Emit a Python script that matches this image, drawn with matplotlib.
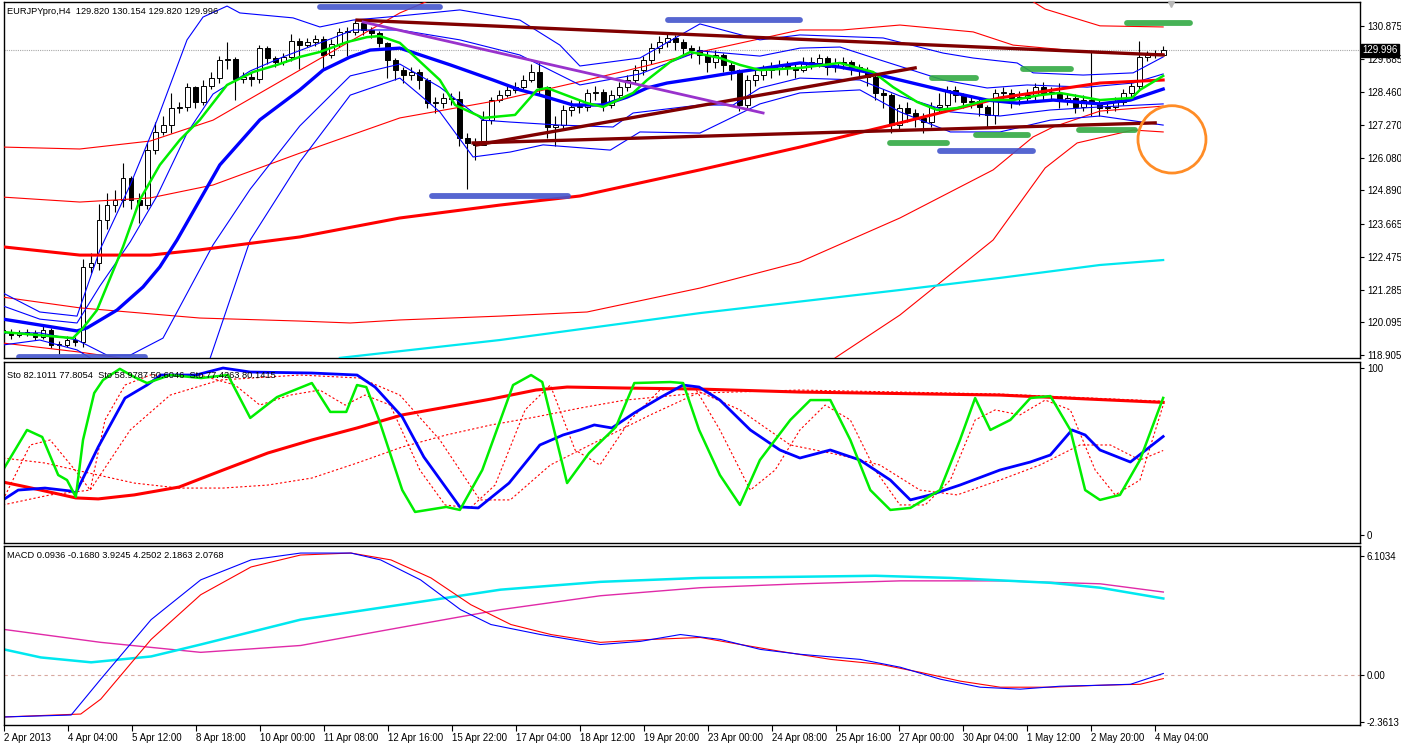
import numpy as np
import matplotlib.pyplot as plt
from matplotlib.patches import Ellipse

plt.rcParams['font.family'] = ['Liberation Sans', 'DejaVu Sans']

# ---------------- price data (H4 bars, index 0..145) ----------------
first_open = 119.80
closes = [119.71, 119.63, 119.71, 119.71, 119.56, 119.82, 119.27, 119.27, 119.45, 119.38,
          122.11, 122.25, 123.82, 124.36, 124.55, 125.35, 124.55, 124.36, 126.36, 127.02,
          127.27, 127.89, 127.93, 128.65, 128.11, 128.69, 128.98, 129.64, 129.67, 128.95,
          129.02, 128.95, 130.07, 129.71, 129.57, 129.75, 130.33, 130.18, 130.29, 130.40,
          129.82, 130.22, 130.66, 130.66, 130.98, 130.73, 130.62, 130.26, 129.64, 129.27,
          129.09, 129.20, 128.91, 128.07, 128.07, 128.26, 128.22, 126.80, 126.62, 126.55,
          127.45, 128.18, 128.36, 128.55, 128.65, 128.91, 129.20, 128.65, 127.20, 127.27,
          127.82, 127.93, 127.93, 128.44, 128.47, 128.00, 128.36, 128.65, 128.91, 129.27,
          129.64, 130.07, 130.29, 130.44, 130.29, 130.07, 130.00, 129.82, 129.57, 129.82,
          129.46, 129.27, 128.00, 128.91, 129.09, 129.27, 129.35, 129.46, 129.35, 129.27,
          129.57, 129.53, 129.71, 129.38, 129.53, 129.57, 129.38, 129.27, 129.02, 128.44,
          128.36, 127.27, 127.89, 127.71, 127.53, 127.38, 127.93, 128.00, 128.55, 128.36,
          128.11, 128.15, 127.93, 127.64, 128.44, 128.44, 128.26, 128.26, 128.36, 128.65,
          128.44, 128.44, 128.18, 128.26, 127.93, 128.18, 128.07, 127.89, 127.93, 128.11,
          128.44, 128.69, 129.75, 129.82, 129.82, 129.996]
highs = [119.95, 119.85, 119.80, 119.85, 119.80, 119.95, 119.90, 119.40, 119.60, 119.55,
         122.40, 122.60, 124.40, 124.80, 124.90, 125.90, 125.40, 124.80, 126.60, 127.40,
         127.60, 128.45, 128.10, 128.80, 128.70, 128.90, 129.20, 129.80, 130.30, 129.75,
         129.20, 129.20, 130.20, 130.15, 129.80, 129.90, 130.60, 130.45, 130.45, 130.55,
         130.50, 130.40, 130.80, 130.85, 131.10, 131.05, 130.85, 130.70, 130.30, 129.70,
         129.40, 129.40, 129.30, 129.00, 128.30, 128.45, 128.45, 128.50, 127.00, 126.80,
         127.80, 128.30, 128.55, 128.70, 128.85, 129.10, 129.50, 129.60, 128.70, 127.60,
         128.00, 128.20, 128.20, 128.60, 128.70, 128.60, 128.55, 128.85, 129.10, 129.45,
         129.80, 130.25, 130.50, 130.60, 130.55, 130.40, 130.20, 130.15, 130.00, 130.00,
         129.90, 129.60, 129.30, 129.10, 129.30, 129.45, 129.55, 129.65, 129.60, 129.50,
         129.75, 129.75, 129.85, 129.80, 129.70, 129.75, 129.65, 129.50, 129.40, 129.10,
         128.60, 128.45, 128.05, 128.10, 127.85, 127.70, 128.10, 128.45, 128.70, 128.70,
         128.45, 128.35, 128.25, 128.00, 128.60, 128.65, 128.60, 128.50, 128.60, 128.80,
         128.85, 128.65, 128.80, 128.45, 128.40, 128.35, 129.93, 128.20, 128.10, 128.30,
         128.60, 128.85, 130.32, 129.98, 130.00, 130.154]
lows = [119.60, 119.50, 119.55, 119.60, 119.45, 119.50, 119.15, 118.95, 119.20, 119.25,
        119.20, 121.90, 122.00, 123.50, 124.10, 124.30, 124.20, 123.70, 124.20, 126.20,
        126.90, 127.00, 127.70, 127.80, 127.90, 128.00, 128.60, 128.80, 129.30, 128.20,
        128.80, 128.70, 128.80, 129.50, 129.40, 129.45, 129.60, 129.30, 130.10, 130.15,
        129.30, 129.70, 130.10, 129.80, 130.55, 130.55, 130.45, 130.10, 129.00, 128.90,
        128.80, 128.90, 128.60, 127.90, 127.70, 127.90, 128.00, 126.50, 124.95, 126.00,
        126.60, 127.30, 128.10, 128.30, 128.45, 128.60, 128.85, 128.40, 126.80, 126.50,
        127.10, 127.60, 127.70, 127.80, 128.20, 127.80, 127.90, 128.20, 128.50, 128.80,
        129.10, 129.50, 129.90, 130.10, 130.00, 129.80, 129.70, 129.50, 129.20, 129.35,
        129.20, 128.90, 127.80, 127.90, 128.70, 128.90, 129.00, 129.10, 129.10, 129.00,
        129.20, 129.30, 129.40, 129.10, 129.20, 129.30, 129.10, 129.00, 128.70, 128.20,
        127.90, 127.00, 127.10, 127.40, 127.20, 127.00, 127.20, 127.70, 127.80, 128.10,
        127.90, 127.90, 127.60, 127.20, 127.30, 128.10, 127.90, 128.00, 128.10, 128.20,
        128.20, 128.20, 127.90, 128.00, 127.70, 127.80, 127.60, 127.60, 127.70, 127.80,
        128.00, 128.30, 128.60, 129.60, 129.70, 129.820]

# ---------------- main-window indicators, read as (bar, price) ----------------
fast_ma_x = [0, 8.75, 10, 11.75, 15, 17.1, 19.6, 22.1, 24.6, 28, 31.25, 34.25, 37.1, 39.6, 43, 45.5, 47.1,
             49.6, 54.6, 56.5, 60, 64, 66.75, 68, 73, 75, 78.75, 80.5, 83.4, 85.9, 89.6, 92.1, 94.6, 99.6,
             104.6, 108.75, 111.25, 114.25, 116.75, 119.25, 123, 126.25, 129.6, 132.1, 135, 137.1, 141.1, 142.1, 145]
fast_ma = [119.74, 119.52, 119.89, 120.54, 122.84, 124.55, 125.82, 126.73, 127.46, 128.73, 129.20, 129.46, 129.75,
           129.93, 130.29, 130.47, 130.51, 130.26, 128.91, 128.00, 127.53, 127.64, 128.55, 128.62, 128.07, 127.93,
           128.44, 128.91, 129.57, 129.93, 129.71, 129.46, 129.27, 129.35, 129.53, 129.20, 128.65, 128.11, 127.82,
           127.89, 128.18, 128.18, 128.36, 128.44, 128.29, 128.18, 128.26, 128.55, 129.06]

mid_ma_x = [0, 9.25, 10.5, 14.25, 17.5, 19.6, 21.75, 27.1, 32.1, 37.1, 40, 43.4, 45.9, 49.6, 55.9, 61.25, 64.6,
            67.1, 71.25, 75, 78, 80.5, 83, 87.1, 91.75, 99.6, 104.6, 108, 112.1, 118.4, 123, 126.75, 131.25,
            137.1, 140.9, 145]
mid_ma = [120.21, 119.78, 119.89, 120.54, 121.38, 122.11, 123.09, 125.82, 127.46, 128.55, 129.27, 129.75, 130.00,
          130.07, 129.46, 128.91, 128.55, 128.36, 128.00, 128.00, 128.29, 128.62, 128.80, 128.98, 129.20, 129.53,
          129.38, 129.20, 128.91, 128.47, 128.18, 128.07, 128.18, 128.04, 128.18, 128.58]

# bands around the blue average (outer and inner)
blue_up2_x = [0, 4.6, 9.25, 12.1, 15.9, 19.25, 23, 25, 28, 29.6, 36.25, 39.6, 43.75, 49.6, 57.1, 64.6, 69.6,
              72.1, 79.6, 87.1, 94.6, 99.6, 110, 117.5, 121.25, 126.75, 128.75, 135, 141.25, 145]
blue_up2 = [121.16, 120.47, 120.32, 122.72, 125.09, 127.45, 130.37, 131.20, 131.60, 131.35, 131.17, 130.84,
            131.09, 131.24, 131.46, 131.09, 130.18, 129.42, 129.71, 130.95, 130.37, 130.55, 130.44, 129.89,
            129.71, 129.53, 129.17, 129.09, 129.17, 129.75]
blue_up1_x = [0, 4.6, 9.25, 12.1, 15.9, 19.25, 23, 26.25, 30.9, 35, 41.25, 43.75, 49.6, 57.1, 64.6, 72.1, 79.6,
              87.1, 94.6, 99.6, 104.6, 109.6, 117.5, 123, 128, 135.5, 141.25, 145]
blue_up1 = [120.69, 120.21, 120.07, 121.41, 123.02, 124.69, 126.98, 128.40, 129.24, 129.75, 130.44, 130.73,
            130.73, 130.37, 129.82, 128.73, 129.13, 129.97, 129.78, 130.07, 130.11, 129.64, 128.91, 128.62,
            128.73, 128.65, 128.80, 129.13]
blue_dn1_x = [0, 4.6, 9.25, 13, 15.9, 20, 26.25, 30.9, 37.1, 43.4, 49.6, 54.6, 60, 63.4, 69.6, 76.25, 78.75,
              87.1, 91.25, 94.6, 99.6, 107.1, 112.1, 118.4, 124.6, 130.9, 137.1, 145]
blue_dn1 = [119.71, 119.71, 119.45, 118.90, 118.90, 119.52, 122.91, 124.94, 127.24, 129.06, 129.49, 128.65,
            127.45, 127.38, 127.27, 127.20, 127.71, 128.00, 128.00, 128.62, 128.98, 128.91, 128.33, 127.75,
            127.60, 127.82, 127.93, 128.04]
blue_dn2_x = [0, 4.6, 9.25, 10.9, np.nan, 25.9, 30.9, 37.1, 43.4, 49.6, 54.6, 58.75, 63.4, 67.5, 75.9, 79.6,
              87.1, 94.6, 99.6, 107.1, 112.1, 118.4, 124.6, 130.9, 137.1, 145]
blue_dn2 = [119.27, 119.45, 119.09, 118.80, np.nan, 118.80, 123.09, 125.93, 128.36, 128.98, 127.75, 126.11,
            126.29, 126.55, 126.36, 127.02, 126.98, 128.04, 128.44, 128.55, 127.75, 127.02, 127.02, 127.45,
            127.60, 127.27]

slow_ma_x = [0, 9.6, 18.4, 24.6, 37.1, 49.6, 62.1, 72.1, 87.1, 99.6, 112.1, 124.6, 137.1, 145]
slow_ma = [122.84, 122.54, 122.54, 122.73, 123.20, 123.89, 124.36, 124.69, 125.64, 126.47, 127.35, 128.26,
           128.80, 128.91]
# bands around the red average (outer and inner)
red_up2_x = [0, 9.6, 18.4, 26.25, 37.1, 49.6, 53.4, np.nan, 128.4, 130.25, 137.1, 145]
red_up2 = [126.47, 126.40, 126.69, 127.45, 129.27, 131.35, 131.82, np.nan, 131.82, 131.49, 130.88, 130.84]
red_up1_x = [0, 9.6, 18.4, 26.25, 37.1, 49.6, 62.1, 73, 80.9, 87.1, 99.6, 104.9, 112.1, 121.25, 126.25, 137.1, 145]
red_up1 = [124.65, 124.47, 124.62, 125.09, 126.25, 127.53, 128.18, 128.91, 129.46, 129.93, 130.73, 130.73,
           130.91, 130.66, 130.18, 129.89, 129.86]
red_dn1_x = [0, 9.6, 24.6, 37.1, 43.4, 49.6, 62.1, 73, 87.1, 99.6, 112.1, 123.75, 128.75, 131.25, 137.1, 145]
red_dn1 = [121.01, 120.62, 120.25, 120.14, 120.07, 120.18, 120.32, 120.47, 121.34, 122.29, 123.89, 125.64,
           126.84, 127.20, 127.78, 127.96]
red_dn2_x = [0, 9.6, 14.6, np.nan, 104, 112.1, 123.75, 130.25, 134.25, 141.25, 145]
red_dn2 = [119.34, 119.01, 118.80, np.nan, 118.80, 120.36, 123.09, 125.71, 126.62, 127.09, 127.02]

year_ma_x = [42.1, 62.1, 87.1, 112.1, 124.6, 137.1, 145]
year_ma = [118.80, 119.45, 120.43, 121.27, 121.71, 122.18, 122.36]

# trend lines: (bar0, price0, bar1, price1)
maroon_lines = [(44.25, 131.09, 145, 129.82),
                (58.75, 126.62, 144, 127.35),
                (59.25, 126.55, 114, 129.35)]
purple_line = (45, 131.02, 95, 127.71)

# marker zones: (bar0, bar1, price)
blue_zones = [(39.6, 54.6, 131.57), (83.1, 99.6, 131.09), (53.6, 70.6, 124.69),
              (2, 17.75, 118.83), (117.1, 128.75, 126.33)]
green_zones = [(140.5, 148.4, 130.98), (116.1, 121.6, 128.98), (127.5, 133.5, 129.31),
               (110.9, 118, 126.62), (121.6, 128.1, 126.91), (134.5, 141.5, 127.09)]
circle_center = (146.1, 126.75)

price_ticks = [130.875, 129.685, 128.460, 127.270, 126.080, 124.890, 123.665, 122.475, 121.285, 120.095, 118.905]
bid = 129.996

# ---------------- stochastic window ----------------
sto_fast_x = [0, 3, 4.9, 6.9, 8, 9.1, 10, 11.4, 12.5, 14.6, 16.4, 18, 20.9, 24.75, 28.1, 30.9, 34.25, 38.6,
              40.9, 42.9, 44.25, 45.4, 47, 49.9, 51.5, 55.4, 57.1, 59.9, 63.75, 66, 67.4, 70.5, 73.25, 76.6,
              78.9, 83.4, 85, 87, 89.6, 92.1, 94.6, 98.4, 100.9, 103.4, 105.9, 108.4, 110.9, 113.4, 117.1,
              119.6, 121.5, 123.4, 125.9, 128.4, 130.9, 133.4, 135.25, 137.1, 139.6, 142.1, 145]
sto_fast = [38.9, 62.9, 58.7, 35.9, 32.9, 22.8, 56.9, 85.0, 92.8, 99.5, 94.6, 91.0, 95.8, 94.0, 95.8, 70.1, 82.6,
            91.0, 73.7, 73.7, 89.8, 88.6, 68.9, 26.9, 13.8, 16.8, 15.0, 38.9, 89.8, 95.8, 91.6, 31.1, 49.1, 64.7,
            91.0, 91.6, 91.0, 62.9, 35.9, 18.0, 44.9, 68.9, 80.8, 80.8, 56.9, 26.9, 15.0, 16.2, 26.9, 56.9, 82.0,
            62.9, 68.9, 82.0, 83.2, 62.9, 26.9, 21.0, 24.0, 44.9, 82.1]
sto_fast_sig_x = [0, 3.4, 5.9, 9, 10.9, 12.75, 15.25, 18.4, 24.6, 29, 32.1, 35.9, 39.6, 42.75, 45.25, 48.4,
                  52.1, 55.25, 58.4, 61.5, 65.25, 68.4, 71.5, 74.6, 78.4, 82.1, 86.5, 89.6, 93.4, 96.5, 99.6,
                  102.75, 105.9, 109, 112.1, 115.25, 118.4, 121.5, 124, 127.1, 130.25, 133.4, 136.5, 139, 142.1, 145]
sto_fast_sig = [21, 53.9, 56.9, 38.9, 26.9, 68.9, 89.8, 95.8, 95.8, 89.8, 77.8, 83.8, 86.8, 77.8, 83.8, 77.8,
                38.9, 18.0, 16.2, 29.9, 74.9, 89.8, 50.9, 41.9, 68.9, 86.8, 88.0, 62.9, 26.9, 38.9, 62.9, 77.8,
                68.9, 38.9, 18.0, 18.0, 32.9, 68.9, 74.9, 71.9, 80.8, 74.9, 38.9, 24.0, 32.9, 77.8]
sto_mid_x = [0, 1.9, 5.25, 8.5, 9.1, 11.9, 15.25, 18, 19.75, 24.1, 27.5, 30.9, 38.6, 44.25, 46.5, 49.9, 52.6,
             57.1, 59.4, 63.25, 67.1, 70, 72.1, 73.9, 76.1, 78.9, 82.25, 85, 87, 89.6, 93.4, 97.1, 99.6, 103.4,
             107.1, 110.9, 113.4, 115.9, 119.6, 124.6, 128.4, 130.9, 133.6, 135.25, 137.1, 140.9, 145]
sto_mid = [21.0, 26.9, 28.1, 26.3, 25.1, 52.7, 82.0, 89.8, 95.8, 95.8, 100.0, 97.6, 97.0, 95.8, 88.6, 70.7, 46.7,
           16.8, 16.2, 31.1, 53.9, 59.9, 62.9, 65.9, 64.1, 73.1, 82.6, 89.8, 88.6, 80.8, 62.9, 50.9, 46.1, 50.9,
           44.9, 32.9, 21.0, 24.0, 29.9, 38.9, 43.7, 47.9, 62.9, 59.9, 50.9, 43.7, 58.98]
sto_mid_sig_x = [0, 5.9, 10.9, 15.9, 20.9, 27.1, 37.1, 44.6, 49.6, 54.6, 59.6, 63.4, 68.4, 74.6, 80.9, 87.1,
                 92.1, 98.4, 104.6, 109.6, 114.6, 119.25, 124.6, 129.6, 134.6, 138.4, 142.1, 145]
sto_mid_sig = [18, 24, 26.9, 62.9, 83.8, 92.8, 95.8, 94.0, 83.8, 56.9, 21.0, 21.0, 41.9, 56.9, 71.9, 85.6, 74.9,
               53.9, 47.9, 41.9, 26.9, 24.0, 32.9, 41.9, 53.9, 53.9, 44.9, 50.6]
sto_slow_x = [0, 3, 6.4, 9.1, 11.9, 16.4, 22, 27.5, 33.1, 38.6, 44.25, 49.9, 55.4, 61, 66.6, 70.5, 77.75, 87,
              99.6, 124.6, 145]
sto_slow = [31.7, 28.7, 25.1, 22.2, 21.6, 24.0, 28.7, 38.9, 49.1, 56.9, 64.1, 71.9, 76.6, 81.4, 86.8, 88.6, 88.0,
            87.4, 85.6, 83.8, 79.4]
sto_slow_sig_x = [0, 5.25, 10.75, 16.4, 22, 27.5, 33.1, 38.6, 44.25, 49.9, 55.4, 61, 66.6, 72.1, 77.75, 87,
                  99.6, 124.6, 145]
sto_slow_sig = [46.1, 43.1, 37.1, 31.1, 28.1, 28.1, 29.9, 34.1, 43.1, 52.7, 59.9, 65.9, 70.7, 76.0, 80.8, 85.0,
                86.8, 84.4, 80.1]

# ---------------- MACD window ----------------
macd_x = [0, 8.4, 12.1, 18.4, 24.6, 30.9, 37.1, 43.4, 47.1, 52.1, 57.1, 60.9, 67.1, 74.6, 79.6, 84.6, 89.6,
          94.6, 99.6, 107.1, 112.1, 117.1, 122.1, 127.1, 132.1, 137.1, 140.9, 145]
macd = [-2.13, -2.03, -0.20, 2.84, 4.87, 5.89, 6.24, 6.24, 5.89, 4.87, 3.35, 2.59, 2.08, 1.57, 1.73, 2.08, 1.83,
        1.32, 1.07, 0.81, 0.41, -0.20, -0.61, -0.71, -0.56, -0.51, -0.46, 0.09]
macd_sig_x = [0, 9.6, 12.1, 18.4, 24.6, 30.9, 37.1, 43.4, 48.4, 53.4, 58.4, 63.4, 68.4, 74.6, 80.9, 87.1, 92.1,
              97.1, 103.4, 109.6, 114.6, 119.6, 124.6, 130.9, 137.1, 142.1, 145]
macd_sig = [-2.13, -1.98, -1.22, 1.83, 4.11, 5.53, 6.14, 6.24, 5.89, 4.97, 3.60, 2.59, 2.08, 1.68, 1.83, 1.93,
            1.57, 1.22, 0.81, 0.56, 0.15, -0.30, -0.61, -0.61, -0.51, -0.46, -0.17]
macd_slow_x = [0, 4.6, 10.9, 18.4, 24.6, 37.1, 49.6, 62.1, 74.6, 87.1, 99.6, 109, 118.4, 130.9, 137.1, 145]
macd_slow = [1.32, 0.91, 0.66, 0.96, 1.57, 2.84, 3.60, 4.37, 4.77, 4.97, 5.03, 5.08, 4.97, 4.72, 4.47, 3.92]
macd_slow_sig_x = [0, 12.1, 24.6, 37.1, 49.6, 62.1, 74.6, 87.1, 99.6, 112.1, 124.6, 137.1, 145]
macd_slow_sig = [2.34, 1.68, 1.17, 1.52, 2.44, 3.35, 4.06, 4.47, 4.67, 4.82, 4.82, 4.67, 4.25]

xtick_labels = ['2 Apr 2013', '4 Apr 04:00', '5 Apr 12:00', '8 Apr 18:00', '10 Apr 00:00', '11 Apr 08:00',
                '12 Apr 16:00', '15 Apr 22:00', '17 Apr 04:00', '18 Apr 12:00', '19 Apr 20:00', '23 Apr 00:00',
                '24 Apr 08:00', '25 Apr 16:00', '27 Apr 00:00', '30 Apr 04:00', '1 May 12:00', '2 May 20:00',
                '4 May 04:00']
xtick_bars = list(range(0, 145, 8))

# ---------------- figure layout ----------------
W, H = 1401, 746
fig = plt.figure(figsize=(W / 100, H / 100), dpi=100)


def px_rect(x0, y0, x1, y1):
    return [x0 / W, 1 - y1 / H, (x1 - x0) / W, (y1 - y0) / H]


ax1 = fig.add_axes(px_rect(4, 2, 1360, 358))
ax2 = fig.add_axes(px_rect(4, 362, 1360, 543))
ax3 = fig.add_axes(px_rect(4, 546, 1360, 725))

XL = (0.125, 169.6)
FS = 7
TFS = 6.7
for ax in (ax1, ax2, ax3):
    ax.set_xlim(*XL)
    ax.set_facecolor('white')
    for s in ax.spines.values():
        s.set_color('black')
        s.set_linewidth(1.0)
    ax.yaxis.tick_right()
    ax.tick_params(axis='y', direction='out', length=3, width=0.8, labelsize=FS, pad=2, colors='black')
    ax.tick_params(axis='x', bottom=False, labelbottom=False)

# ---------------- main window ----------------
ax1.set_ylim(118.796, 131.748)
ax1.set_yticks(price_ticks)
ax1.set_yticklabels([f'{v:.3f}' for v in price_ticks])

bars = np.arange(len(closes))
c = np.array(closes)
o = np.r_[first_open, c[:-1]]
ax1.vlines(bars, lows, highs, color='black', lw=0.8, zorder=2)
bottom = np.minimum(o, c)
height = np.maximum(np.abs(c - o), 0.025)
ax1.bar(bars, height, bottom=bottom, width=0.62, color=np.where(c >= o, 'white', 'black'),
        edgecolor='black', linewidth=0.7, zorder=2.1)

ax1.axhline(bid, color='#a8a8a8', lw=0.8, ls=(0, (1, 1)), zorder=1)

thin = dict(lw=0.8, zorder=3)
for xs, ys in ((red_up2_x, red_up2), (red_up1_x, red_up1), (red_dn1_x, red_dn1), (red_dn2_x, red_dn2)):
    ax1.plot(xs, ys, color='#ff0000', **thin)
ax1.plot(year_ma_x, year_ma, color='#00e8f0', lw=1.6, zorder=3)
for xs, ys in ((blue_up2_x, blue_up2), (blue_up1_x, blue_up1), (blue_dn1_x, blue_dn1), (blue_dn2_x, blue_dn2)):
    ax1.plot(xs, ys, color='#0000ff', **thin)
ax1.plot(slow_ma_x, slow_ma, color='#ff0000', lw=2.2, zorder=3)
ax1.plot(mid_ma_x, mid_ma, color='#0000ff', lw=2.4, zorder=3.1)
ax1.plot(fast_ma_x, fast_ma, color='#00ee00', lw=1.8, zorder=3.2)

for b0, p0, b1, p1 in maroon_lines:
    ax1.plot([b0, b1], [p0, p1], color='#800000', lw=2.4, zorder=4)
ax1.plot(purple_line[0::2], purple_line[1::2], color='#9932cc', lw=2.0, zorder=4)

for b0, b1, p in blue_zones:
    ax1.plot([b0, b1], [p, p], color='#4455cc', lw=4.2, solid_capstyle='round', alpha=0.9, zorder=5)
for b0, b1, p in green_zones:
    ax1.plot([b0, b1], [p, p], color='#33aa44', lw=4.2, solid_capstyle='round', alpha=0.9, zorder=5)

ax1.add_patch(Ellipse(circle_center, width=8.5, height=2.45, fill=False, edgecolor='#ff8c26', lw=2.0, zorder=6))
ax1.plot([146], [131.67], marker='v', color='#b8b8b8', ms=5, zorder=6, clip_on=False)

ax1.text(1.0015, bid, f'{bid:.3f}', transform=ax1.get_yaxis_transform(), ha='left', va='center',
         fontsize=FS, color='white', zorder=10,
         bbox=dict(boxstyle='square,pad=0.15', facecolor='black', edgecolor='black'))

fig.text(7 / W, 1 - 11 / H, 'EURJPYpro,H4  129.820 130.154 129.820 129.996', fontsize=TFS,
         ha='left', va='center', color='black')

# ---------------- stochastic window ----------------
ax2.set_ylim(-4.8, 103.6)
ax2.set_yticks([100, 0])
ax2.set_yticklabels(['100', '0'])
ax2.plot(sto_slow_sig_x, sto_slow_sig, color='#ff0000', lw=0.8, ls=(0, (2, 2)))
ax2.plot(sto_mid_sig_x, sto_mid_sig, color='#ff0000', lw=0.8, ls=(0, (2, 2)))
ax2.plot(sto_fast_sig_x, sto_fast_sig, color='#ff0000', lw=0.8, ls=(0, (2, 2)))
ax2.plot(sto_slow_x, sto_slow, color='#ff0000', lw=2.2)
ax2.plot(sto_mid_x, sto_mid, color='#0000ff', lw=2.0)
ax2.plot(sto_fast_x, sto_fast, color='#00ee00', lw=1.8)
fig.text(7 / W, 1 - 375 / H, 'Sto 82.1011 77.8054  Sto 58.9787 50.6046  Sto 77.4263 80.1415', fontsize=TFS,
         ha='left', va='center', color='black')

# ---------------- MACD window ----------------
ax3.set_ylim(-2.54, 6.60)
ax3.set_yticks([6.1034, 0, -2.3613])
ax3.set_yticklabels(['6.1034', '0.00', '-2.3613'])
ax3.axhline(0, color='#d8a8a0', lw=0.8, ls=(0, (3, 3)))
ax3.plot(macd_slow_sig_x, macd_slow_sig, color='#e02aa8', lw=1.0)
ax3.plot(macd_slow_x, macd_slow, color='#00e8f0', lw=1.8)
ax3.plot(macd_sig_x, macd_sig, color='#ff0000', lw=0.8)
ax3.plot(macd_x, macd, color='#0000ff', lw=0.8)
fig.text(7 / W, 1 - 555 / H, 'MACD 0.0936 -0.1680 3.9245 4.2502 2.1863 2.0768', fontsize=TFS,
         ha='left', va='center', color='black')

ax3.tick_params(axis='x', bottom=True, labelbottom=True, direction='out', length=4, width=0.8,
                labelsize=FS, pad=2)
ax3.set_xticks(xtick_bars)
ax3.set_xticklabels(xtick_labels)
for lab in ax3.get_xticklabels():
    lab.set_ha('left')

fig.savefig('out.png', dpi=100, facecolor='white')
